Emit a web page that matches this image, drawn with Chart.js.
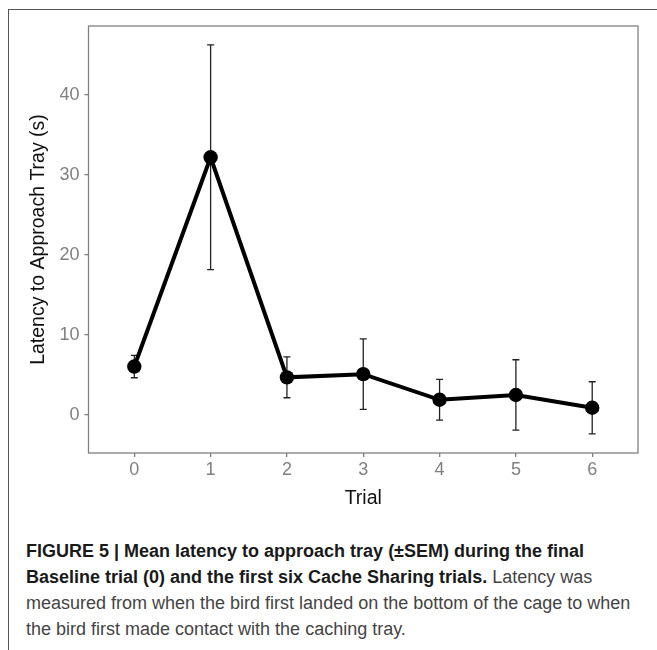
<!DOCTYPE html>
<html>
<head>
<meta charset="utf-8">
<script src="https://cdn.jsdelivr.net/npm/chart.js@4"></script>
<style>
  body { margin: 0; background: #fff; width: 657px; height: 650px; overflow: hidden; position: relative; }
  #frame { position: absolute; left: 8px; top: 9px; width: 660px; height: 660px; border-top: 1px solid #555; border-left: 1px solid #555; }
  #wrap { position: absolute; left: 0; top: 0; width: 657px; height: 515px; }
  #caption { position: absolute; left: 26px; top: 538px; font-family: "Liberation Sans", Arial, sans-serif; font-size: 18px; line-height: 26px; color: #444; white-space: nowrap; }
  #caption b { color: #1a1a1a; }
</style>
</head>
<body>
<div id="frame"></div>
<div id="wrap"><canvas id="chart" width="657" height="515"></canvas></div>
<div id="caption">
  <b>FIGURE 5 | Mean latency to approach tray (±SEM) during the final</b><br>
  <b>Baseline trial (0) and the first six Cache Sharing trials.</b> Latency was<br>
  measured from when the bird first landed on the bottom of the cage to when<br>
  the bird first made contact with the caching tray.
</div>
<script>
// Datos
const trials = [0, 1, 2, 3, 4, 5, 6];
const meanLatency = [6.05, 32.2, 4.7, 5.1, 1.9, 2.5, 0.9];
const semLatency = [1.4, 14.05, 2.55, 4.4, 2.55, 4.4, 3.25];
const yTicks = [0, 10, 20, 30, 40];

const FONT = "'Liberation Sans', Arial, sans-serif";

// barras de error (media ± SEM)
const errorBars = {
  id: "errorBars",
  beforeDatasetsDraw(chart) {
    const { ctx, scales } = chart;
    ctx.save();
    ctx.strokeStyle = "#222";
    ctx.lineWidth = 1.3;
    trials.forEach((t, i) => {
      const x = scales.x.getPixelForValue(t);
      const top = scales.y.getPixelForValue(meanLatency[i] + semLatency[i]);
      const bot = scales.y.getPixelForValue(meanLatency[i] - semLatency[i]);
      ctx.beginPath();
      ctx.moveTo(x, top);
      ctx.lineTo(x, bot);
      ctx.moveTo(x - 3.5, top);
      ctx.lineTo(x + 3.5, top);
      ctx.moveTo(x - 3.5, bot);
      ctx.lineTo(x + 3.5, bot);
      ctx.stroke();
    });
    ctx.restore();
  },
};

// borde del panel
const panelBox = {
  id: "panelBox",
  afterDraw(chart) {
    const { ctx, chartArea: a } = chart;
    ctx.save();
    ctx.strokeStyle = "#808080";
    ctx.lineWidth = 1.3;
    ctx.strokeRect(a.left, a.top, a.right - a.left, a.bottom - a.top);
    ctx.restore();
  },
};

new Chart(document.getElementById("chart"), {
  type: "line",
  data: {
    datasets: [
      {
        data: trials.map((t, i) => ({ x: t, y: meanLatency[i] })),
        borderColor: "#000",
        backgroundColor: "#000",
        borderWidth: 4,
        pointRadius: 7.2,
        pointBorderWidth: 0,
        fill: false,
        tension: 0,
      },
    ],
  },
  options: {
    responsive: false,
    animation: false,
    layout: { padding: { top: 26, right: 19, left: 0, bottom: 0 } },
    plugins: { legend: { display: false }, tooltip: { enabled: false } },
    scales: {
      x: {
        type: "linear",
        min: -0.6,
        max: 6.6,
        afterBuildTicks: (s) => { s.ticks = trials.map((v) => ({ value: v })); },
        afterFit: (s) => { s.height = 62; },
        grid: { drawOnChartArea: false, tickLength: 4, color: "#808080", lineWidth: 1.3 },
        border: { display: false },
        ticks: { color: "#808080", font: { family: FONT, size: 18 }, padding: 2, maxRotation: 0 },
        title: { display: true, text: "Trial", color: "#111", font: { family: FONT, size: 19.5 }, padding: { top: 0, bottom: 5 } },
      },
      y: {
        min: -4.75,
        max: 48.6,
        afterBuildTicks: (s) => { s.ticks = yTicks.map((v) => ({ value: v })); },
        afterFit: (s) => { s.width = 88.5; },
        grid: { drawOnChartArea: false, tickLength: 4, color: "#808080", lineWidth: 1.3 },
        border: { display: false },
        ticks: { color: "#808080", font: { family: FONT, size: 18 }, padding: 5 },
        title: { display: true, text: "Latency to Approach Tray (s)", color: "#111", font: { family: FONT, size: 19.5 }, padding: { top: 27, bottom: 0 } },
      },
    },
  },
  plugins: [errorBars, panelBox],
});
</script>
</body>
</html>
